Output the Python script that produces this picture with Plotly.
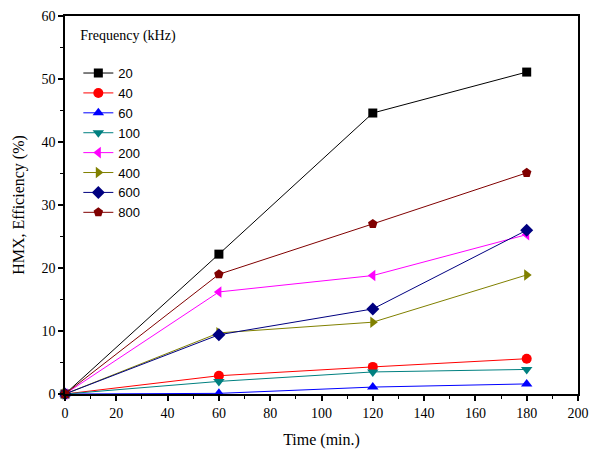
import plotly.graph_objects as go

time_min = [0, 60, 120, 180]
freq_labels = ["20", "40", "60", "100", "200", "400", "600", "800"]
eff_20 = [0, 22.2, 44.6, 51.1]
eff_40 = [0, 2.9, 4.3, 5.6]
eff_60 = [0, 0.1, 1.1, 1.6]
eff_100 = [0, 2.0, 3.5, 3.9]
eff_200 = [0, 16.2, 18.8, 25.3]
eff_400 = [0, 9.7, 11.4, 18.9]
eff_600 = [0, 9.4, 13.5, 26.0]
eff_800 = [0, 19.0, 27.0, 35.1]

series = [eff_20, eff_40, eff_60, eff_100, eff_200, eff_400, eff_600, eff_800]
colors = ["#000000", "#FF0000", "#0000FF", "#008080", "#FF00FF", "#808000", "#000080", "#800000"]
symbols = ["square", "circle", "triangle-up", "triangle-down", "triangle-left",
           "triangle-right", "diamond", "pentagon"]
sizes = [9, 10, 10, 10, 10, 10, 10, 10]

fig = go.Figure()
for lab, ys, c, s, sz in zip(freq_labels, series, colors, symbols, sizes):
    fig.add_trace(go.Scatter(
        x=time_min, y=ys, name=lab, mode="lines+markers",
        line=dict(color=c, width=1),
        marker=dict(symbol=s, color=c, size=sz),
    ))

serif = "Liberation Serif"
fig.update_layout(
    width=592, height=454,
    margin=dict(l=65, r=14, t=16, b=60, autoexpand=False),
    plot_bgcolor="white", paper_bgcolor="white",
    showlegend=True,
    legend=dict(
        x=0.026, y=0.985, xanchor="left", yanchor="top",
        title=dict(text="Frequency (kHz)<br> ", font=dict(family=serif, size=14, color="black"), side="top"),
        font=dict(family="Liberation Sans", size=13, color="black"),
        bgcolor="rgba(0,0,0,0)", tracegroupgap=0, itemwidth=30,
    ),
    xaxis=dict(
        range=[0, 200], tickvals=list(range(0, 201, 20)), automargin=False,
        showgrid=False, zeroline=False,
        showline=True, linecolor="black", linewidth=1.5, mirror=True,
        ticks="outside", ticklen=5, tickcolor="black", tickwidth=1.5,
        minor=dict(ticks="outside", ticklen=3, dtick=10, tickcolor="black", tickwidth=1),
        tickfont=dict(family=serif, size=14, color="black"),
        title=dict(text="Time (min.)", font=dict(family=serif, size=16, color="black"), standoff=14),
    ),
    yaxis=dict(
        range=[0, 60], tickvals=list(range(0, 61, 10)), automargin=False,
        showgrid=False, zeroline=False,
        showline=True, linecolor="black", linewidth=1.5, mirror=True,
        ticks="outside", ticklen=5, tickcolor="black", tickwidth=1.5,
        minor=dict(ticks="outside", ticklen=3, dtick=5, tickcolor="black", tickwidth=1),
        tickfont=dict(family=serif, size=14, color="black"),
        title=dict(text="HMX, Efficiency (%)", font=dict(family=serif, size=16, color="black"), standoff=13),
    ),
)
fig.update_traces(cliponaxis=False)

# remove the default page margin so the 592x454 figure fills the window exactly
fig.write_html(
    "out.html",
    config={"displayModeBar": False},
    post_script="document.body.style.margin='0';document.body.style.overflow='hidden';",
)
